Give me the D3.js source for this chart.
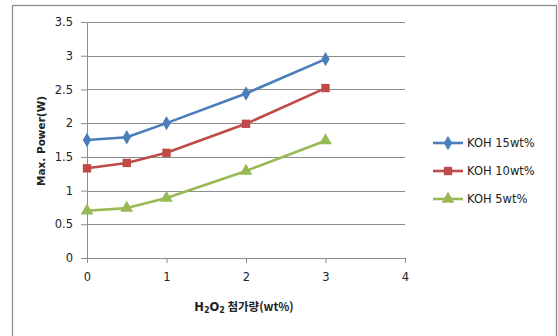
<!DOCTYPE html>
<html>
<head>
<meta charset="utf-8">
<script src="https://cdn.jsdelivr.net/npm/d3@7"></script>
<style>
  body { margin: 0; background: #fff; }
  svg { display: block; font-family: "DejaVu Sans", "Noto Sans", sans-serif; }
</style>
</head>
<body>
<div id="wrapper"></div>
<script>
// 데이터
const xValues = [0, 0.5, 1, 2, 3];
const koh15 = [1.75, 1.79, 2.0, 2.44, 2.95];
const koh10 = [1.33, 1.41, 1.56, 1.99, 2.52];
const koh5 = [0.70, 0.74, 0.89, 1.29, 1.74];
const seriesNames = ["KOH 15wt%", "KOH 10wt%", "KOH 5wt%"];
const xTicks = [0, 1, 2, 3, 4];
const yTicks = [0, 0.5, 1, 1.5, 2, 2.5, 3, 3.5];

const colors = ["#4a7ebb", "#be4b48", "#98b954"];
const symbols = [d3.symbolDiamond, d3.symbolSquare, d3.symbolTriangle];
const seriesValues = [koh15, koh10, koh5];

function drawChart() {
  const dimensions = {
    width: 558,
    height: 336,
    margin: { top: 22, right: 153, bottom: 78, left: 87 },
  };
  dimensions.boundedWidth = dimensions.width - dimensions.margin.left - dimensions.margin.right;
  dimensions.boundedHeight = dimensions.height - dimensions.margin.top - dimensions.margin.bottom;

  const wrapper = d3.select("#wrapper")
    .append("svg")
    .attr("width", dimensions.width)
    .attr("height", dimensions.height);

  // 바깥 테두리
  wrapper.append("rect")
    .attr("x", 12.5).attr("y", 5.5)
    .attr("width", 544).attr("height", 340)
    .attr("fill", "none")
    .attr("stroke", "#8c8c8c")
    .attr("stroke-width", 1.3);

  const bounds = wrapper.append("g")
    .attr("transform", `translate(${dimensions.margin.left}, ${dimensions.margin.top})`);

  const xScale = d3.scaleLinear().domain([0, 4]).range([0, dimensions.boundedWidth]);
  const yScale = d3.scaleLinear().domain([0, 3.5]).range([dimensions.boundedHeight, 0]);

  // 격자선
  bounds.append("g")
    .selectAll("line")
    .data(yTicks.filter(d => d > 0))
    .join("line")
    .attr("x1", 0).attr("x2", dimensions.boundedWidth)
    .attr("y1", d => Math.round(yScale(d)) + 0.5)
    .attr("y2", d => Math.round(yScale(d)) + 0.5)
    .attr("stroke", "#8c8c8c");

  // 축
  const yAxis = bounds.append("g")
    .call(d3.axisLeft(yScale).tickValues(yTicks).tickSize(6).tickPadding(8).tickFormat(d3.format("")));
  const xAxis = bounds.append("g")
    .attr("transform", `translate(0, ${dimensions.boundedHeight})`)
    .call(d3.axisBottom(xScale).tickValues(xTicks).tickSize(5).tickPadding(10).tickFormat(d3.format("d")));

  [xAxis, yAxis].forEach(ax => {
    ax.select(".domain").attr("stroke", "#8c8c8c");
    ax.selectAll(".tick line").attr("stroke", "#8c8c8c");
    ax.selectAll(".tick text")
      .attr("fill", "#222")
      .style("font-family", "'DejaVu Sans', sans-serif")
      .style("font-size", "11.5px");
  });

  // 선과 마커
  const lineGenerator = d3.line()
    .x((d, i) => xScale(xValues[i]))
    .y(d => yScale(d));

  seriesValues.forEach((values, s) => {
    bounds.append("path")
      .datum(values)
      .attr("d", lineGenerator)
      .attr("fill", "none")
      .attr("stroke", colors[s])
      .attr("stroke-width", 2.6)
      .attr("stroke-linejoin", "round");

    bounds.append("g")
      .selectAll("path")
      .data(values)
      .join("path")
      .attr("transform", (d, i) => `translate(${xScale(xValues[i])}, ${yScale(d)})`)
      .attr("d", d3.symbol().type(symbols[s]).size(s === 0 ? 60 : 70))
      .attr("fill", colors[s]);
  });

  // 축 제목
  const xTitle = wrapper.append("text")
    .attr("x", 244)
    .attr("y", 311)
    .attr("text-anchor", "middle")
    .style("font-size", "11.5px")
    .style("font-weight", "bold")
    .attr("fill", "#222");
  xTitle.append("tspan").text("H");
  xTitle.append("tspan").text("2").style("font-size", "8px").attr("dy", 2);
  xTitle.append("tspan").text("O").attr("dy", -2);
  xTitle.append("tspan").text("2").style("font-size", "8px").attr("dy", 2);
  xTitle.append("tspan").text(" 첨가량(wt%)").attr("dy", -2)
    .style("font-family", "'Noto Sans CJK KR', sans-serif");

  wrapper.append("text")
    .attr("transform", "translate(45, 141) rotate(-90)")
    .attr("text-anchor", "middle")
    .style("font-size", "10.5px")
    .style("font-weight", "bold")
    .attr("fill", "#222")
    .text("Max. Power(W)");

  // 범례
  const legend = wrapper.append("g").attr("transform", "translate(433, 143)");
  seriesNames.forEach((name, s) => {
    const row = legend.append("g").attr("transform", `translate(0, ${s * 28})`);
    row.append("line")
      .attr("x1", 0).attr("x2", 30)
      .attr("stroke", colors[s])
      .attr("stroke-width", 2.6);
    row.append("path")
      .attr("transform", "translate(15, 0)")
      .attr("d", d3.symbol().type(symbols[s]).size(s === 0 ? 60 : 70))
      .attr("fill", colors[s]);
    row.append("text")
      .attr("x", 34)
      .attr("dy", "0.35em")
      .style("font-size", "11.5px")
      .attr("fill", "#222")
      .text(name);
  });
}
drawChart();
</script>
</body>
</html>
